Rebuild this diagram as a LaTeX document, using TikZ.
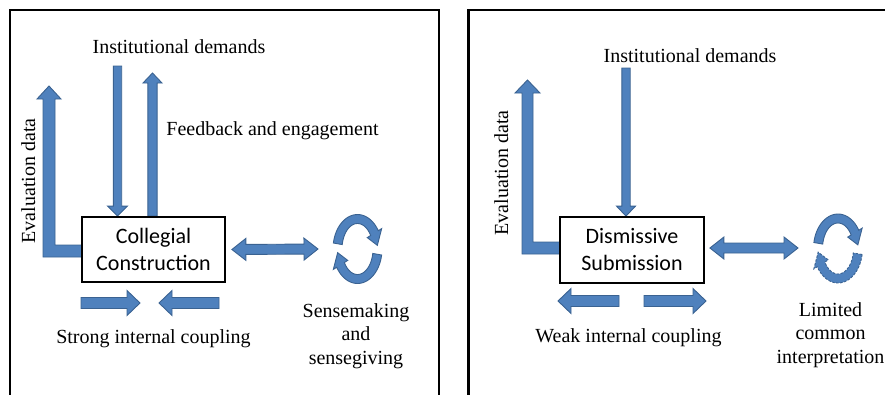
\documentclass[tikz,border=0pt]{standalone}
\usepackage{fontspec}
\setmainfont{Liberation Serif}
\newfontfamily\boxfont{Carlito}
\usetikzlibrary{calc}
\definecolor{abfill}{HTML}{4F81BD}
\definecolor{abedge}{HTML}{3A6291}
\pgfdeclarelayer{bg}
\pgfsetlayers{bg,main}

% straight block arrow: [style] tail, tip, shaft half width, head half width, head length
\newcommand\drawblockarrow[6][]{%
  \path ($(#3)!#6!(#2)$) coordinate (hb);
  \filldraw[blockstyle,#1] ($(#2)!#4!90:(#3)$) -- ($(hb)!#4!90:(#3)$) -- ($(hb)!#5!90:(#3)$)
    -- (#3) -- ($(hb)!#5!-90:(#3)$) -- ($(hb)!#4!-90:(#3)$) -- ($(#2)!#4!-90:(#3)$) -- cycle;}

% two-headed block arrow: end a, end b, shaft half width, head half width, head length
\newcommand\drawdoublearrow[5]{%
  \path ($(#1)!#5!(#2)$) coordinate (dha) ($(#2)!#5!(#1)$) coordinate (dhb);
  \filldraw[blockstyle] (#1) -- ($(dha)!#4!90:(#2)$) -- ($(dha)!#3!90:(#2)$)
    -- ($(dhb)!#3!-90:(#1)$) -- ($(dhb)!#4!-90:(#1)$) -- (#2)
    -- ($(dhb)!#4!90:(#1)$) -- ($(dhb)!#3!90:(#1)$)
    -- ($(dha)!#3!-90:(#2)$) -- ($(dha)!#4!-90:(#2)$) -- cycle;}

% pair of curved arrows running round an ellipse; [style of the lower one], centre
\newcommand\ringarrows[2][]{%
  \begin{scope}[shift={(#2)}]
    \filldraw[blockstyle] plot[domain=190:328,samples=30] ({24.5*cos(\x)},{34.5*sin(\x)})
      -- ({28.5*cos(328)},{38.5*sin(328)}) -- ({20*cos(353)},{30*sin(353)})
      -- ({11.5*cos(328)},{21.5*sin(328)})
      -- plot[domain=328:190,samples=30] ({15.5*cos(\x)},{25.5*sin(\x)}) -- cycle;
    \filldraw[blockstyle,#1] plot[domain=10:148,samples=30] ({24.5*cos(\x)},{34.5*sin(\x)})
      -- ({28.5*cos(148)},{38.5*sin(148)}) -- ({20*cos(173)},{30*sin(173)})
      -- ({11.5*cos(148)},{21.5*sin(148)})
      -- plot[domain=148:10,samples=30] ({15.5*cos(\x)},{25.5*sin(\x)}) -- cycle;
  \end{scope}}

\begin{document}
\begin{tikzpicture}[x=1pt,y=-1pt,
  frame/.style={draw=black,line width=2.5pt},
  procbox/.style={draw=black,line width=1.8pt,fill=white,minimum width=143pt,
    minimum height=65pt,inner sep=0pt,align=center,font=\boxfont\fontsize{22}{27}\selectfont},
  lbl/.style={inner sep=0pt,align=center,font=\fontsize{20}{23.5}\selectfont},
  blockstyle/.style={fill=abfill,draw=abedge,line width=0.9pt,line join=miter}]
\useasboundingbox (0,0) rectangle (885,394);
\clip (0,0) rectangle (885,394);

% panel frames
\draw[frame] (10,10) rectangle (439,420);
\draw[frame] (468.5,10) rectangle (900,420);

% ---------- left panel ----------
\node[procbox] (cc) at (153.5,249.5) {Collegial\\Construction};
\node[lbl,anchor=base] (idl) at (179,53) {Institutional demands};
\node[lbl,anchor=base] (fbl) at (272.5,135) {Feedback and engagement};
\node[lbl,anchor=base,rotate=90] (evl) at (35,181) {Evaluation data};
\node[lbl,anchor=base] (scl) at (153.5,343) {Strong internal coupling};
\node[lbl] (ssl) at (356,336) {Sensemaking\\and\\sensegiving};

\coordinate (idlt) at (117.5,66);
\coordinate (fblt) at (152.5,73);
\coordinate (evlt) at (49,86);
\coordinate (ssc) at (357.5,249);
\coordinate (sca1) at (81,303);
\coordinate (sca2) at (140,303);
\coordinate (scb1) at (219,303);
\coordinate (scb2) at (159,303);
\coordinate (ssw) at (318,249);

\begin{pgfonlayer}{bg}
  \drawblockarrow{idlt}{cc.north -| idlt}{4.2pt}{10pt}{10pt}
  \drawblockarrow{cc.north -| fblt}{fblt}{4.6pt}{9.5pt}{10pt}
  \filldraw[blockstyle] ($(cc.west)+(3,7.5)$) -- (43,257) -- (43,99) -- (37,99) -- (evlt)
    -- (61,99) -- (55,99) -- (55,245) -- ($(cc.west)+(3,-4.5)$) -- cycle;
  \drawdoublearrow{$(cc.east)+(6,0)$}{ssw}{5pt}{11pt}{14pt}
  \drawblockarrow{sca1}{sca2}{5.5pt}{12.5pt}{13pt}
  \drawblockarrow{scb1}{scb2}{5.5pt}{12.5pt}{13pt}
  \ringarrows{ssc}
\end{pgfonlayer}

% ---------- right panel ----------
\node[procbox,minimum width=144pt,minimum height=66pt] (ds) at (632,250) {Dismissive\\Submission};
\node[lbl,anchor=base] (idr) at (690,62) {Institutional demands};
\node[lbl,anchor=base,rotate=90] (evr) at (508,173) {Evaluation data};
\node[lbl,anchor=base] (wcl) at (628.5,342) {Weak internal coupling};
\node[lbl] (lcl) at (830.5,335) {Limited\\common\\interpretation};

\coordinate (idrt) at (626,68);
\coordinate (evrt) at (527.5,80);
\coordinate (lcc) at (838,248.5);
\coordinate (wca1) at (619,301);
\coordinate (wca2) at (558,301);
\coordinate (wcb1) at (644,301);
\coordinate (wcb2) at (706,301);
\coordinate (lcw) at (798,248);

\begin{pgfonlayer}{bg}
  \drawblockarrow{idrt}{ds.north -| idrt}{4.2pt}{9.5pt}{10pt}
  \filldraw[blockstyle] ($(ds.west)+(3,4)$) -- (522,254) -- (522,93) -- (515,93) -- (evrt)
    -- (540,93) -- (533,93) -- (533,242) -- ($(ds.west)+(3,-8)$) -- cycle;
  \drawdoublearrow{$(ds.east)+(5,-2)$}{lcw}{5pt}{11pt}{14pt}
  \drawblockarrow{wca1}{wca2}{5.5pt}{12.5pt}{13pt}
  \drawblockarrow{wcb1}{wcb2}{5.5pt}{12.5pt}{13pt}
  \ringarrows[dash pattern=on 2.5pt off 1.5pt]{lcc}
\end{pgfonlayer}
\end{tikzpicture}
\end{document}
